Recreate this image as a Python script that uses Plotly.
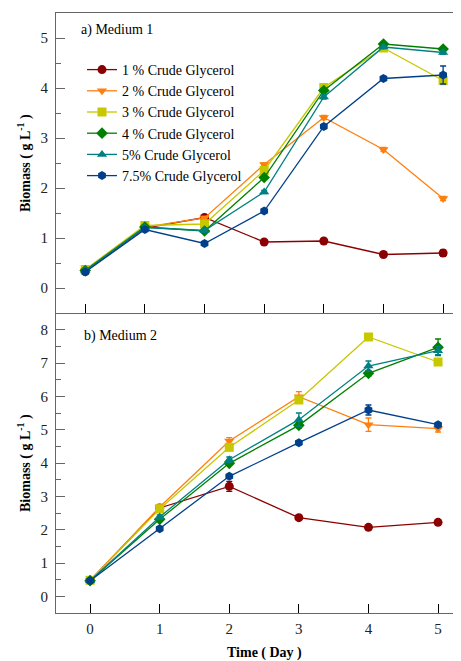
import plotly.graph_objects as go

# ---- data ----
labels = ["1 % Crude Glycerol", "2 % Crude Glycerol", "3 % Crude Glycerol",
          "4 % Crude Glycerol", "5% Crude Glycerol", "7.5% Crude Glycerol"]
colors = ["#8B0000", "#FF7F0E", "#C8C800", "#008000", "#008080", "#00408A"]
symbols = ["circle", "triangle-down", "square", "diamond", "triangle-up", "hexagon"]

# Medium 1 (7 sampling points)
m1_time = [0, 1, 2, 3, 4, 5, 6]
m1_1 = [0.33, 1.20, 1.41, 0.92, 0.94, 0.67, 0.70]
m1_2 = [0.35, 1.22, 1.40, 2.47, 3.41, 2.77, 1.79]
m1_3 = [0.37, 1.25, 1.28, 2.35, 4.01, 4.80, 4.15]
m1_4 = [0.35, 1.22, 1.14, 2.21, 3.95, 4.88, 4.78]
m1_5 = [0.35, 1.21, 1.15, 1.92, 3.82, 4.82, 4.71]
m1_75 = [0.32, 1.17, 0.89, 1.54, 3.23, 4.19, 4.26]
m1_err = [
    [0.02, 0.03, 0.03, 0.03, 0.03, 0.03, 0.06],
    [0.02, 0.03, 0.03, 0.03, 0.04, 0.04, 0.04],
    [0.02, 0.03, 0.03, 0.04, 0.04, 0.04, 0.08],
    [0.02, 0.03, 0.03, 0.03, 0.04, 0.03, 0.03],
    [0.02, 0.03, 0.03, 0.03, 0.04, 0.03, 0.03],
    [0.02, 0.03, 0.03, 0.03, 0.04, 0.04, 0.18],
]

# Medium 2 (days)
m2_time = [0, 1, 2, 3, 4, 5]
m2_1 = [0.48, 2.65, 3.30, 2.36, 2.07, 2.22]
m2_2 = [0.48, 2.68, 4.66, 5.99, 5.15, 5.03]
m2_3 = [0.48, 2.62, 4.47, 5.89, 7.78, 7.03]
m2_4 = [0.47, 2.31, 3.99, 5.13, 6.69, 7.47]
m2_5 = [0.47, 2.38, 4.10, 5.30, 6.91, 7.37]
m2_75 = [0.47, 2.03, 3.60, 4.61, 5.59, 5.15]
m2_err = [
    [0.03, 0.05, 0.15, 0.05, 0.05, 0.06],
    [0.03, 0.08, 0.10, 0.15, 0.20, 0.10],
    [0.03, 0.05, 0.05, 0.06, 0.06, 0.06],
    [0.03, 0.06, 0.06, 0.08, 0.08, 0.25],
    [0.03, 0.06, 0.08, 0.20, 0.15, 0.12],
    [0.03, 0.05, 0.05, 0.06, 0.15, 0.06],
]

m1_series = [m1_1, m1_2, m1_3, m1_4, m1_5, m1_75]
m2_series = [m2_1, m2_2, m2_3, m2_4, m2_5, m2_75]

FONT = "Liberation Serif"
OFF = 8  # page body margin offset
W, H = 461 - OFF, 661 - OFF
L, T = 56 - OFF, 13 - OFF
B = H - (613 - OFF)
PW, PH = W - L, H - T - B

def py(ypix):  # ypix in window coordinates
    return 1 - (ypix - OFF - T) / PH

def px(xpix):
    return (xpix - OFF - L) / PW

fig = go.Figure()
for i in range(6):
    fig.add_trace(go.Scatter(
        x=m1_time, y=m1_series[i], name=labels[i], mode="lines+markers",
        line=dict(color=colors[i], width=1.3),
        marker=dict(symbol=symbols[i], size=9, color=colors[i]),
        error_y=dict(type="data", array=m1_err[i], color=colors[i], thickness=1.3, width=3),
        xaxis="x", yaxis="y", legendgroup=labels[i], showlegend=True))
for i in range(6):
    fig.add_trace(go.Scatter(
        x=m2_time, y=m2_series[i], name=labels[i], mode="lines+markers",
        line=dict(color=colors[i], width=1.3),
        marker=dict(symbol=symbols[i], size=9, color=colors[i]),
        error_y=dict(type="data", array=m2_err[i], color=colors[i], thickness=1.3, width=3),
        xaxis="x2", yaxis="y2", legendgroup=labels[i], showlegend=False))

axis_line = "#666666"
yaxis_common = dict(showline=True, linecolor=axis_line, linewidth=1.2, ticks="inside",
                    ticklen=9, tickcolor=axis_line, showgrid=False, zeroline=False,
                    automargin=False,
                    tickfont=dict(family=FONT, size=15, color="#222"),
                    ticklabelstandoff=4,
                    minor=dict(ticks="inside", ticklen=5, dtick=0.5, tickcolor=axis_line,
                               showgrid=False))

title_font = dict(family=FONT, size=14, color="black")

fig.update_layout(
    width=W, height=H,
    margin=dict(l=L, r=0, t=T, b=B, autoexpand=False),
    paper_bgcolor="white", plot_bgcolor="white",
    font=dict(family=FONT, color="black"),
    xaxis=dict(domain=[0, 1], anchor="y", range=[-0.49, 6.3], tickvals=m1_time,
               showticklabels=False, ticks="inside", ticklen=9, tickcolor="black",
               showline=True, mirror=True, linecolor=axis_line, linewidth=1.2,
               showgrid=False, zeroline=False, automargin=False),
    yaxis=dict(domain=[0.5, 1], anchor="x", range=[-0.5, 5.5], tickvals=[0, 1, 2, 3, 4, 5],
               **yaxis_common),
    xaxis2=dict(domain=[0, 1], anchor="y2", range=[-0.49, 5.33], tickvals=m2_time,
                ticks="inside", ticklen=9, tickcolor="black",
                showline=True, linecolor=axis_line, linewidth=1.2,
                showgrid=False, zeroline=False, automargin=False,
                tickfont=dict(family=FONT, size=15, color="#222"), ticklabelstandoff=2),
    yaxis2=dict(domain=[0, 0.5], anchor="x2", range=[-0.5, 8.5],
                tickvals=[0, 1, 2, 3, 4, 5, 6, 7, 8], **yaxis_common),
    legend=dict(x=px(82), y=py(54), xanchor="left", yanchor="top",
                bgcolor="rgba(0,0,0,0)", font=dict(family=FONT, size=14),
                itemwidth=30, tracegroupgap=0),
    annotations=[
        dict(text="a) Medium 1", xref="paper", yref="paper", x=px(79),
             y=py(30), xanchor="left", yanchor="middle", showarrow=False,
             font=dict(family=FONT, size=14)),
        dict(text="b) Medium 2", xref="paper", yref="paper", x=px(82),
             y=py(336), xanchor="left", yanchor="middle", showarrow=False,
             font=dict(family=FONT, size=14)),
        dict(text="<b>Biomass ( g L<sup>-1</sup> )</b>", xref="paper", yref="paper",
             x=px(24), y=py(163), xanchor="center", yanchor="middle", textangle=-90,
             showarrow=False, font=title_font),
        dict(text="<b>Biomass ( g L<sup>-1</sup> )</b>", xref="paper", yref="paper",
             x=px(24), y=py(463), xanchor="center", yanchor="middle", textangle=-90,
             showarrow=False, font=title_font),
        dict(text="<b>Time ( Day )</b>", xref="paper", yref="paper",
             x=px(264), y=py(653), xanchor="center", yanchor="middle",
             showarrow=False, font=title_font),
    ],
)

fig.write_html("out.html")
